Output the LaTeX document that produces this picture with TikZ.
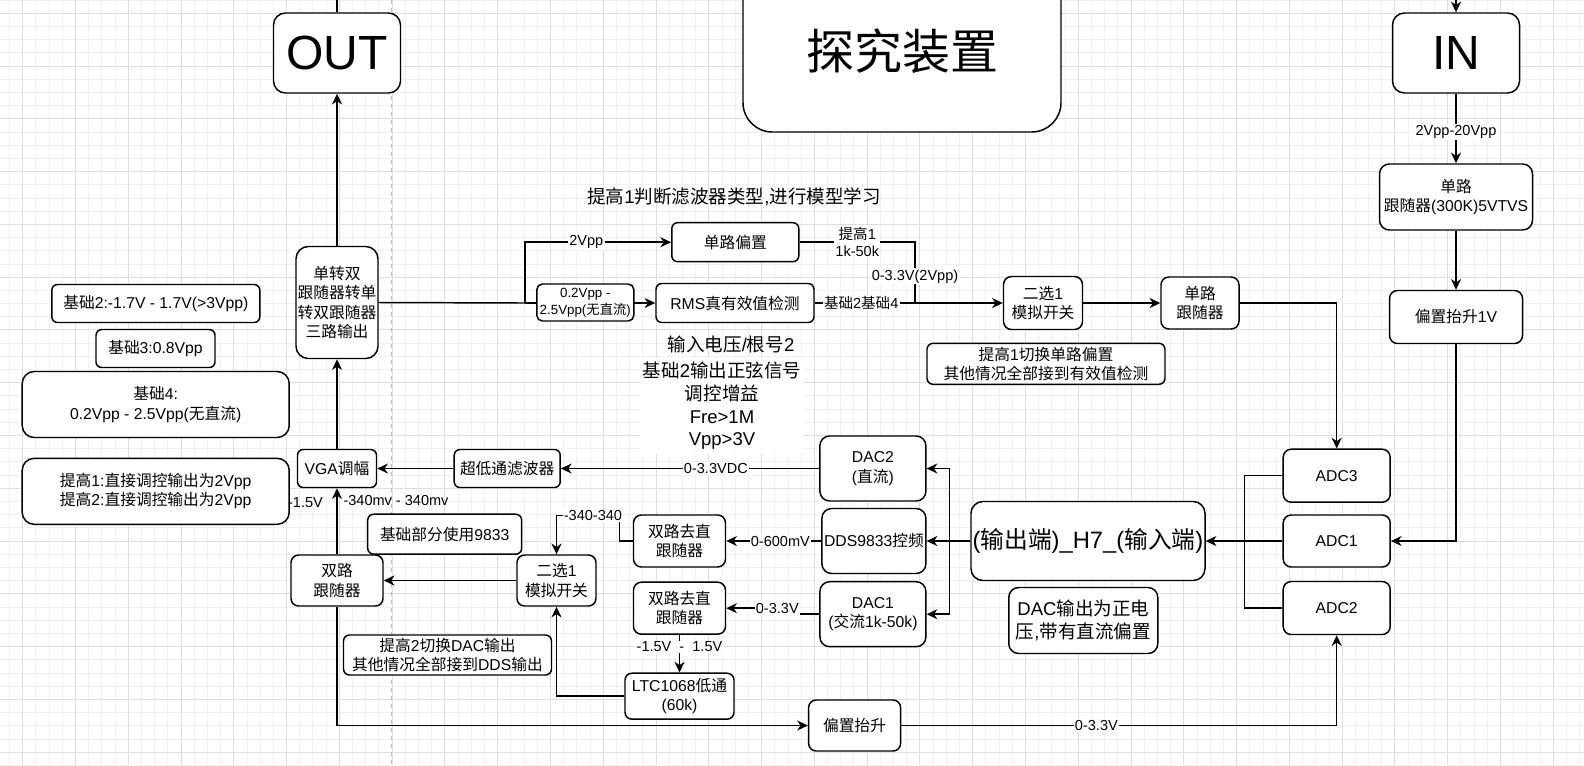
\documentclass[tikz,border=0pt]{standalone}
\usepackage{fontspec}
\setmainfont{Liberation Sans}
\newfontfamily\cjkfamily{Noto Sans CJK SC}
\newfontfamily\latfamily{Liberation Sans}
\usetikzlibrary{arrows.meta}
\XeTeXinterchartokenstate=1
\chardef\CJKcls=7
\newcount\cjkc
\def\setcjkrange#1#2{\cjkc=#1\relax\loop\XeTeXcharclass\cjkc=\CJKcls\relax\advance\cjkc by 1\relax\ifnum\cjkc<#2\relax\repeat}
\setcjkrange{"4E00}{"A000}
\setcjkrange{"3000}{"3040}
\setcjkrange{"FF00}{"FFF0}
\XeTeXinterchartoks 0 \CJKcls = {\cjkfamily}
\XeTeXinterchartoks 4095 \CJKcls = {\cjkfamily}
\XeTeXinterchartoks \CJKcls 0 = {\latfamily}
\XeTeXinterchartoks 4095 0 = {\latfamily}
\newcommand\fsA{\fontsize{11.8pt}{14.5pt}\selectfont}
\newcommand\fsB{\fontsize{13.9pt}{17pt}\selectfont}
\newcommand\fsS{\fontsize{10.9pt}{12.5pt}\selectfont}
\newcommand\fsXS{\fontsize{10pt}{12.5pt}\selectfont}
\newcommand\fsH{\fontsize{17.8pt}{20pt}\selectfont}
\newcommand\fsT{\fontsize{36pt}{40pt}\selectfont}
\definecolor{gmaj}{HTML}{DEDEDE}
\definecolor{gmin}{HTML}{F1F1F1}
\definecolor{pgb}{HTML}{BDBDBD}
\begin{document}
\begin{tikzpicture}[x=0.75pt,y=-0.75pt,
  box/.style={draw, rounded corners=#1, fill=white, line width=1.1pt, align=center, inner sep=1pt, font=\fsA},
  box/.default=5pt,
  wh/.style 2 args={minimum width=#1*0.75pt, minimum height=#2*0.75pt},
  conn/.style={line width=1.1pt},
  arr/.style={conn, -{Stealth[length=8pt,width=7.5pt,inset=2.5pt]}},
  lbl/.style={fill=white, inner sep=1pt, font=\fsS, align=center},
  txt/.style={inner sep=1pt, align=center}]
\useasboundingbox (0,0) rectangle (1584,765);
\fill[white] (0,0) rectangle (1584,765);
% grid
\foreach \k in {0,...,119} {\draw[gmin, line width=0.75pt] ({9.5+13.195*\k},0) -- ({9.5+13.195*\k},765);}
\foreach \k in {0,...,58} {\draw[gmin, line width=0.75pt] (0,{0.1+13.195*\k}) -- (1584,{0.1+13.195*\k});}
\foreach \k in {0,...,29} {\draw[gmaj, line width=0.75pt] ({22.7+52.78*\k},0) -- ({22.7+52.78*\k},765);}
\foreach \k in {0,...,14} {\draw[gmaj, line width=0.75pt] (0,{13.3+52.78*\k}) -- (1584,{13.3+52.78*\k});}
\draw[pgb, line width=0.75pt, dash pattern=on 3pt off 3pt] (391.5,0) -- (391.5,765);

% labels lying under boxes
\node[font=\fsS, inner sep=0pt] (lm15) at (305.5,503) {-1.5V};

% boxes
\node[box=9pt, wh={127}{80}, font=\fsT] (out) at (337,53) {OUT};
\node[box=22pt, wh={318}{162}, font=\fsT] (ttl) at (902,51) {探究装置};
\node[box=9pt, wh={127}{80}, font=\fsT] (in) at (1456,53) {IN};
\node[box=7.4pt, wh={153}{66}] (tvs) at (1456,197) {单路\\跟随器(300K)5VTVS};
\node[box=6pt, wh={133}{53}] (b1v) at (1456,317) {偏置抬升1V};
\node[box=4.4pt, wh={127}{39}] (pz) at (735.3,242.2) {单路偏置};
\node[box=4.4pt, wh={158}{39}] (rms) at (735,303) {RMS真有效值检测};
\node[box=9.2pt, wh={82}{112}] (dz) at (337,302.5) {单转双\\跟随器转单\\转双跟随器\\三路输出};
\node[box=4.3pt, wh={208}{38}] (j2) at (155.8,303.5) {基础2:-1.7V - 1.7V(>3Vpp)};
\node[box=4.3pt, wh={119}{38}] (j3) at (155.5,348.5) {基础3:0.8Vpp};
\node[box=9pt, wh={267}{66}] (j4) at (155.7,404.5) {基础4:\\0.2Vpp - 2.5Vpp(无直流)};
\node[box=9pt, wh={267}{66}] (tg) at (155.7,491.3) {提高1:直接调控输出为2Vpp\\提高2:直接调控输出为2Vpp};
\node[box=4.3pt, wh={79}{38}] (vga) at (337,468.5) {VGA调幅};
\node[box=4.3pt, wh={106}{38}] (lpf) at (507.2,468.5) {超低通滤波器};
\node[box=6pt, wh={79}{53}] (sw1) at (1043,303) {二选1\\模拟开关};
\node[box=5.9pt, wh={78}{52}] (f1) at (1200,303) {单路\\跟随器};
\node[box=4.6pt, wh={238}{41}] (note1) at (1046,363.8) {提高1切换单路偏置\\其他情况全部接到有效值检测};
\node[box=6pt, wh={107}{53}] (adc3) at (1336.7,475.7) {ADC3};
\node[box=6pt, wh={107}{52}] (adc1) at (1336.7,541) {ADC1};
\node[box=6pt, wh={107}{53}] (adc2) at (1336.7,608) {ADC2};
\node[box=8.9pt, wh={234}{79}, font=\fsH] (h7) at (1088,541) {(输出端)\_H7\_(输入端)};
\node[box=7.4pt, wh={149}{66}, font=\fsB] (dacnote) at (1083.3,620.5) {DAC输出为正电\\压,带有直流偏置};
\node[box=7.3pt, wh={106}{65}] (dac2) at (872.9,468.5) {DAC2\\(直流)};
\node[box=7.3pt, wh={104}{65}] (dds) at (873.9,541) {DDS9833控频};
\node[box=7.3pt, wh={106}{65}] (dac1) at (872.9,614.2) {DAC1\\(交流1k-50k)};
\node[box=5.9pt, wh={92}{52}] (dq1) at (679.5,541) {双路去直\\跟随器};
\node[box=5.9pt, wh={92}{52}] (dq2) at (679.5,608.2) {双路去直\\跟随器};
\node[box=5.2pt, wh={109}{46}] (ltc) at (679.5,696.2) {LTC1068低通\\(60k)};
\node[box=5.7pt, wh={79}{51}] (sw2) at (556.5,580.5) {二选1\\模拟开关};
\node[box=5.7pt, wh={92}{51}] (sl) at (337,580.5) {双路\\跟随器};
\node[box=4.5pt, wh={154}{40}] (n9833) at (444.7,534.2) {基础部分使用9833};
\node[box=4.5pt, wh={208}{40}] (note2) at (447.5,655) {提高2切换DAC输出\\其他情况全部接到DDS输出};
\node[box=5.7pt, wh={92}{51}] (bsb) at (854.6,725.5) {偏置抬升};

% free texts
\node[txt, font=\fsB] (t1) at (734,196.7) {提高1判断滤波器类型,进行模型学习};
\node[txt, font=\fsB] (t2) at (731,344) {输入电压/根号2};
\node[txt, font=\fsB, fill=white, inner xsep=2pt, inner ysep=3pt] (t3) at (722,406)
  {\fontsize{13.9pt}{17.1pt}\selectfont 基础2输出正弦信号\\调控增益\\Fre>1M\\Vpp>3V};
\node[font=\fsS, inner sep=0pt] (l340) at (396,500.7) {-340mv - 340mv};

% coordinates
\coordinate (otop) at (337,-2);
\coordinate (intop) at (1456,-2);
\coordinate (jA) at (525,303);
\coordinate (jB) at (915,303);
\coordinate (jC) at (1244.3,541);
\coordinate (jD) at (949.3,541);

% connectors
\draw[conn] (otop) -- (out.north);
\draw[arr] (dz.north) -- (out.south);
\draw[arr] (vga.north) -- (dz.south);
\draw[arr] (sl.north) -- (vga.south);
\draw[arr] (lpf.west) -- (vga.east);
\draw[arr] (dac2.west) -- node[lbl, pos=0.4] {0-3.3VDC} (lpf.east);
\draw[conn] (dz.east) -- (jA);
\draw[arr] (jA) -- (rms.west);
\draw[arr] (jA) |- node[lbl, pos=0.71] {2Vpp} (pz.west);
\draw[conn] (pz.east) -| node[lbl, pos=0.25] {提高1\\1k-50k} node[lbl, pos=0.78] {0-3.3V(2Vpp)} (jB);
\draw[arr] (rms.east) -- node[lbl, pos=0.247] {基础2基础4} (sw1.west);
\draw[arr] (sw1.east) -- (f1.west);
\draw[arr] (f1.east) -| (adc3.north);
\draw[arr] (intop) -- (in.north);
\draw[arr] (in.south) -- node[lbl, pos=0.545] {2Vpp-20Vpp} (tvs.north);
\draw[arr] (tvs.south) -- (b1v.north);
\draw[arr] (b1v.south) |- (adc1.east);
\draw[conn] (adc3.west) -| (jC);
\draw[conn] (adc2.west) -| (jC);
\draw[arr] (adc1.west) -- (h7.east);
\draw[arr] (h7.west) -- (dds.east);
\draw[arr] (jD) |- (dac2.east);
\draw[arr] (jD) |- (dac1.east);
\draw[arr] (dds.west) -- node[lbl, pos=0.43] {0-600mV} (dq1.east);
\draw[arr] (dac1.west) -- ++(-22,0) |- node[lbl, pos=0.64] {0-3.3V} (dq2.east);
\draw[arr] (dq2.south) -- node[lbl, pos=0.32] {-1.5V\ \ -\ \ 1.5V} (ltc.north);
\draw[arr] (ltc.west) -| (sw2.south);
\draw[arr] (dq1.west) -| (619.3,515.7) -| node[lbl, pos=0.21] {-340-340} (sw2.north);
\draw[arr] (sw2.west) -- (sl.east);
\draw[arr] (sl.south) |- (bsb.west);
\draw[arr] (bsb.east) -| node[lbl, pos=0.224] {0-3.3V} (adc2.south);

% edge label box
\node[box=4.2pt, wh={97}{37}, font=\fsXS, inner sep=0pt] (vr) at (585.3,302.5) {0.2Vpp -\\2.5Vpp(无直流)};
\end{tikzpicture}
\end{document}
